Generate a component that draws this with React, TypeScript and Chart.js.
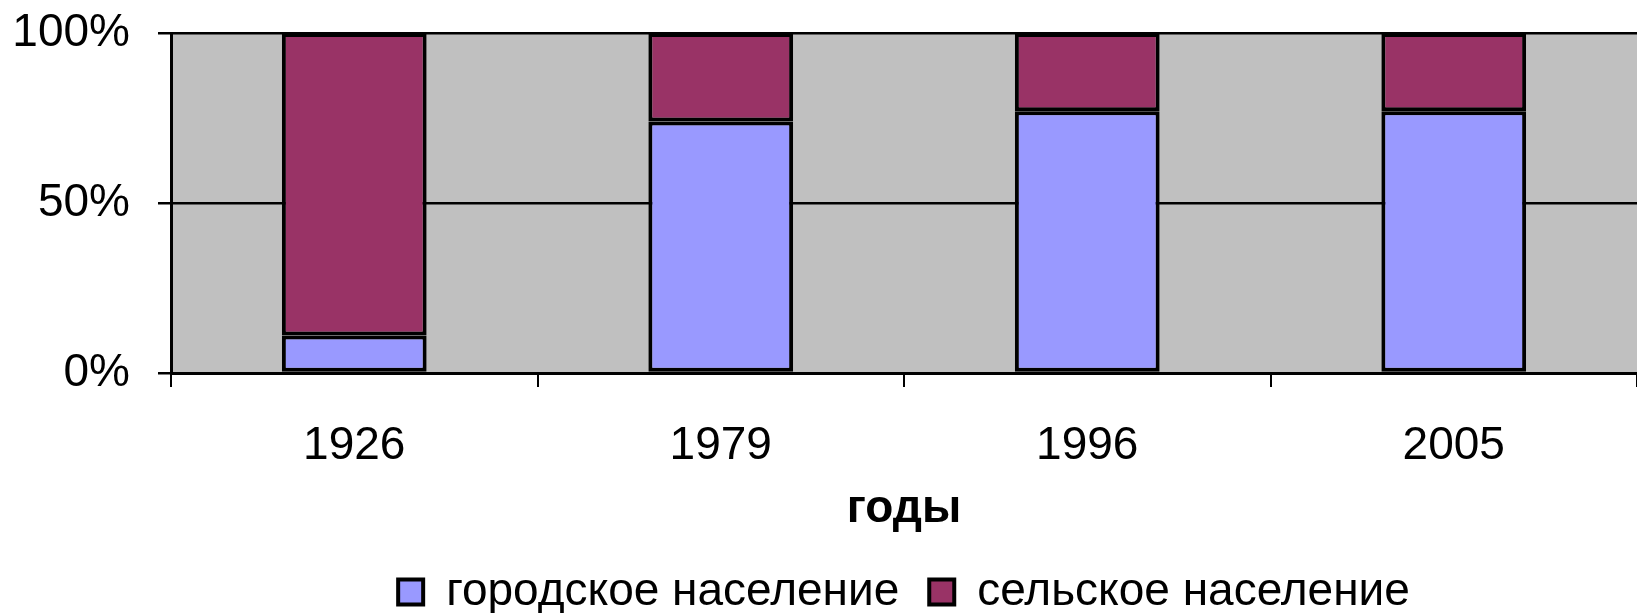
import React, { useEffect, useRef } from "react";
import { Chart, registerables } from "chart.js";

Chart.register(...registerables);

const categories = ["1926", "1979", "1996", "2005"];
const urbanValues = [11, 74, 77, 77];
const ruralValues = [89, 26, 23, 23];
const seriesNames = ["городское население", "сельское население"];
const yTickValues = [0, 50, 100];
const xAxisTitle = "годы";

const FONT = "'Liberation Sans', Arial, sans-serif";

const plotBg = {
  id: "plotBg",
  beforeDraw(chart: any) {
    const { ctx, chartArea } = chart;
    if (!chartArea) return;
    ctx.save();
    ctx.fillStyle = "#C0C0C0";
    ctx.fillRect(chartArea.left, chartArea.top, chartArea.right - chartArea.left, chartArea.bottom - chartArea.top);
    ctx.restore();
  },
};

export default function App() {
  const ref = useRef<HTMLCanvasElement | null>(null);

  useEffect(() => {
    if (!ref.current) return;
    const chart = new Chart(ref.current, {
      type: "bar",
      data: {
        labels: categories,
        datasets: [
          {
            label: seriesNames[0],
            data: urbanValues,
            backgroundColor: "#9999FF",
            borderColor: "#000000",
            borderWidth: 4,
            borderSkipped: false,
          },
          {
            label: seriesNames[1],
            data: ruralValues,
            backgroundColor: "#993366",
            borderColor: "#000000",
            borderWidth: 4,
            borderSkipped: false,
          },
        ],
      },
      options: {
        responsive: false,
        animation: false,
        devicePixelRatio: 1,
        layout: { padding: { top: 33, left: 0, right: 0, bottom: 0 } },
        datasets: { bar: { barPercentage: 0.395, categoryPercentage: 1 } },
        plugins: {
          tooltip: { enabled: false },
          legend: {
            position: "bottom",
            fullSize: false,
            labels: {
              font: { family: FONT, size: 46 },
              color: "#000",
              boxWidth: 25,
              boxHeight: 25,
              padding: 30,
            },
          },
        },
        scales: {
          x: {
            stacked: true,
            afterFit(scale: any) {
              scale.height = 166;
            },
            grid: {
              display: true,
              offset: true,
              drawOnChartArea: false,
              drawTicks: true,
              tickLength: 14,
              color: "#000",
              lineWidth: 2,
            },
            border: { display: true, color: "#000", width: 3 },
            ticks: {
              font: { family: FONT, size: 46 },
              color: "#000",
              padding: 32,
              maxRotation: 0,
            },
            title: {
              display: true,
              text: xAxisTitle,
              font: { family: FONT, size: 46, weight: "bold" },
              color: "#000",
              padding: { top: 0, bottom: 2 },
            },
          },
          y: {
            stacked: true,
            min: 0,
            max: 100,
            afterFit(scale: any) {
              scale.width = 171;
            },
            afterBuildTicks(scale: any) {
              scale.ticks = yTickValues.map((v) => ({ value: v }));
            },
            grid: {
              color: "#000",
              lineWidth: 2.5,
              drawTicks: true,
              tickLength: 13,
            },
            border: { display: true, color: "#000", width: 3 },
            ticks: {
              font: { family: FONT, size: 46, lineHeight: 0.2 },
              color: "#000",
              padding: 28,
              callback: (v: any) => v + "%",
            },
          },
        },
      },
      plugins: [plotBg],
    });
    return () => chart.destroy();
  }, []);

  return (
    <div style={{ position: "fixed", left: 0, top: 0, width: 1637, height: 613, overflow: "hidden", background: "#fff" }}>
      <canvas ref={ref} width={1637} height={625} style={{ display: "block" }} />
    </div>
  );
}
